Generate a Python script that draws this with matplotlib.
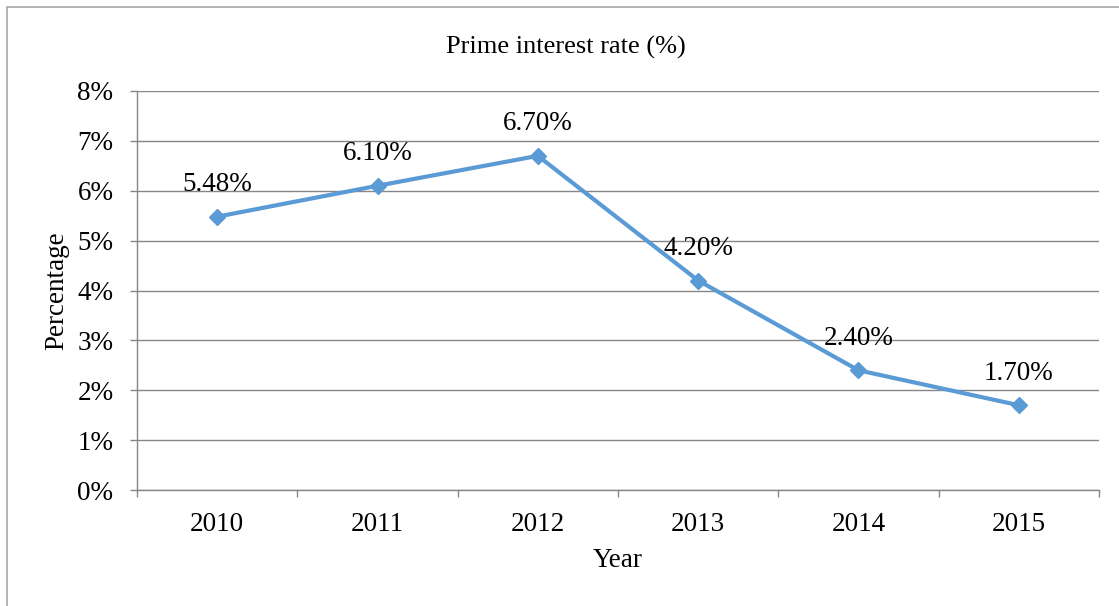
import matplotlib
matplotlib.use('Agg')
import matplotlib.pyplot as plt
import matplotlib.patches as mpatches

years = ['2010', '2011', '2012', '2013', '2014', '2015']
rates = [5.48, 6.10, 6.70, 4.20, 2.40, 1.70]
rate_labels = ['5.48%', '6.10%', '6.70%', '4.20%', '2.40%', '1.70%']
y_ticks = [0, 1, 2, 3, 4, 5, 6, 7, 8]

plt.rcParams['font.family'] = ['Liberation Serif', 'DejaVu Serif']

W, H = 1119, 606
fig = plt.figure(figsize=(W / 100, H / 100), dpi=100)
fig.patch.set_facecolor('white')

# outer chart frame (runs off the right and bottom edges)
fig.add_artist(mpatches.Rectangle((7 / W, -0.1), 1.2, 1 - 7 / H + 0.1,
                                  transform=fig.transFigure, fill=False,
                                  edgecolor='#A6A6A6', linewidth=1.2))

ax = fig.add_axes([137 / W, 1 - 490 / H, (1099 - 137) / W, (490 - 91) / H])

x = list(range(len(years)))
ax.plot(x, rates, color='#5B9BD5', linewidth=3, marker='D',
        markersize=8, markeredgecolor='#5B9BD5', zorder=3, clip_on=False)

for xi, v, lab in zip(x, rates, rate_labels):
    ax.annotate(lab, (xi, v), xytext=(0, 23), textcoords='offset points',
                ha='center', va='center', fontsize=19.5, color='black')

ax.set_xlim(-0.5, len(years) - 0.5)
ax.set_ylim(0, 8)
ax.set_yticks(y_ticks)
ax.set_yticklabels([f'{t}%' for t in y_ticks])
ax.set_xticks(x)
ax.set_xticklabels(years)
ax.set_xticks([i - 0.5 for i in range(len(years) + 1)], minor=True)

ax.grid(axis='y', color='#868686', linewidth=1.0)
ax.set_axisbelow(True)
for side in ['top', 'right']:
    ax.spines[side].set_visible(False)
for side in ['left', 'bottom']:
    ax.spines[side].set_color('#868686')
    ax.spines[side].set_linewidth(1.0)

ax.tick_params(axis='y', length=5, width=1, color='#868686', labelsize=19.5, pad=12)
ax.tick_params(axis='x', which='major', length=0, labelsize=19.5, pad=16)
ax.tick_params(axis='x', which='minor', length=5, width=1, color='#868686')

ax.set_xlabel('Year', fontsize=19.5, labelpad=8)
ax.set_ylabel('Percentage', fontsize=19.5, labelpad=6)

fig.text(566 / W, 1 - 47 / H, 'Prime interest rate (%)', ha='center',
         va='center', fontsize=19)

fig.savefig('out.png', dpi=100, facecolor='white')
